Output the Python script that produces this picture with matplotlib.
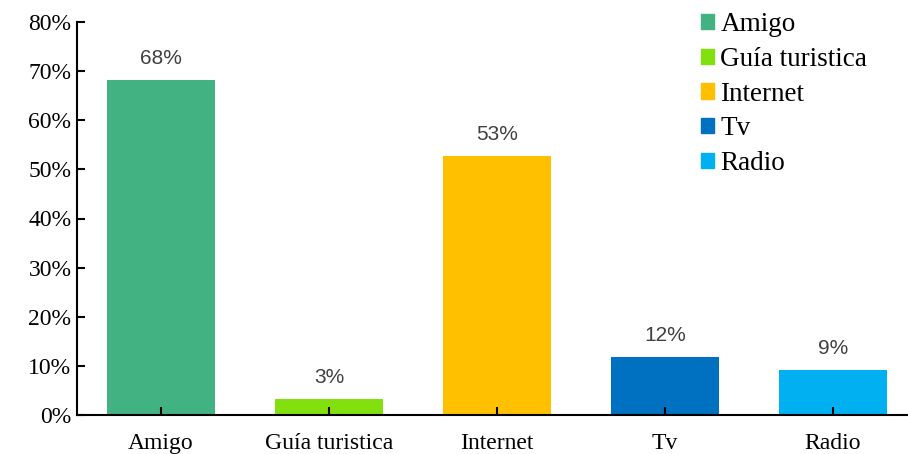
import numpy as np
import matplotlib.pyplot as plt
from matplotlib.patches import Patch

categories = ['Amigo', 'Guía turistica', 'Internet', 'Tv', 'Radio']
values = [0.682, 0.033, 0.527, 0.118, 0.092]
labels = ['68%', '3%', '53%', '12%', '9%']
colors = ['#43B282', '#82E00F', '#FFC000', '#0070C0', '#00B0F0']

fig = plt.figure(figsize=(9.08, 4.54), dpi=100)
ax = fig.add_axes([77/908, 1 - 415/454, 840/908, 393/454 * 1.0])

x = np.arange(len(categories))
ax.bar(x, values, width=0.64, color=colors)
for xi, v, lab in zip(x, values, labels):
    ax.text(xi, v + 0.025, lab, ha='center', va='bottom',
            fontsize=15, color='#404040', family='Liberation Sans')

ax.set_xlim(-0.5, 4.5)
ax.set_ylim(0, 0.8)
ax.set_yticks(np.arange(0, 0.81, 0.1))
ax.set_yticklabels(['{}%'.format(int(round(t * 100))) for t in np.arange(0, 0.81, 0.1)])
ax.set_xticks(x)
ax.set_xticklabels(categories)
for lbl in ax.get_xticklabels() + ax.get_yticklabels():
    lbl.set_family('Liberation Serif')
    lbl.set_fontsize(17)
ax.tick_params(axis='both', direction='in', length=6, width=1.5, colors='black')
ax.tick_params(axis='x', pad=13)
ax.tick_params(axis='y', pad=4)
ax.spines['top'].set_visible(False)
ax.spines['right'].set_visible(False)
ax.spines['left'].set_linewidth(1.5)
ax.spines['bottom'].set_linewidth(1.5)

handles = [Patch(color=c, label=n) for c, n in zip(colors, categories)]
leg = ax.legend(handles=handles, loc='upper left', bbox_to_anchor=(621/840, 1.032),
                frameon=False, prop={'family': 'Liberation Serif', 'size': 19.5},
                handlelength=0.48, handleheight=0.48, handletextpad=0.25,
                labelspacing=0.36, borderaxespad=0, borderpad=0.1)

fig.savefig('out.png', dpi=100)
